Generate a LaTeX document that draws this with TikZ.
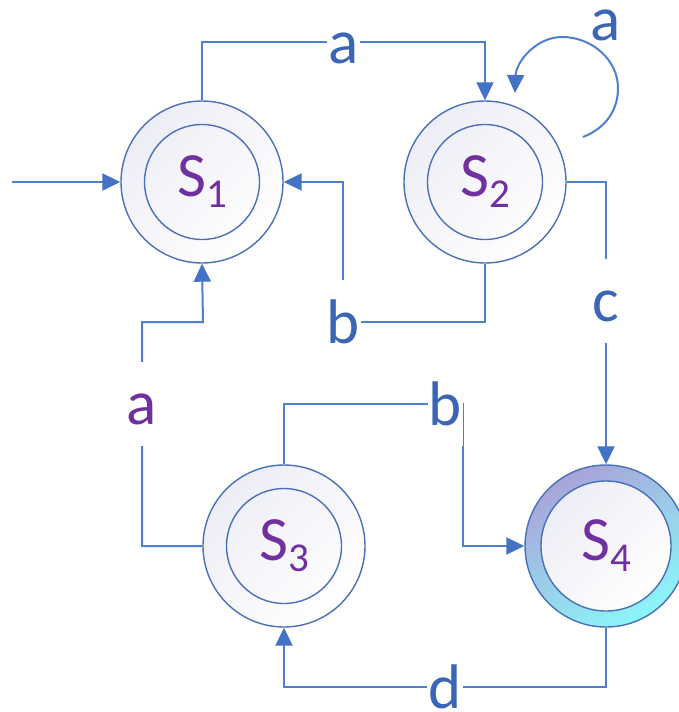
\documentclass[tikz,border=0pt]{standalone}
\usepackage{fontspec}
\setmainfont{Carlito}
\usetikzlibrary{arrows.meta}

\definecolor{edgeblue}{HTML}{4F7FCF}
\definecolor{tipblue}{HTML}{4472C4}
\definecolor{ringblue}{HTML}{4A70B8}
\definecolor{lblblue}{HTML}{3A66B5}
\definecolor{stpurple}{HTML}{7030A0}
\definecolor{shadetop}{HTML}{EDEDF6}
\definecolor{ringtop}{HTML}{A8A4D8}
\definecolor{ringbot}{HTML}{8CF6FA}

% state name with a lowered, smaller index
\newcommand{\stname}[1]{S\raisebox{-11pt}{\fontsize{41}{41}\selectfont #1}}

\tikzset{
  outerst/.style={circle, draw=ringblue, line width=1.4pt, minimum size=162pt,
    inner sep=0pt, top color=shadetop, bottom color=white, shading angle=45},
  innerst/.style={circle, draw=ringblue, line width=1.4pt, minimum size=115pt,
    inner sep=0pt, text=stpurple, font=\fontsize{63}{63}\selectfont},
  ringst/.style={outerst, top color=ringtop, bottom color=ringbot, shading angle=30},
  innerfill/.style={innerst, minimum size=130pt, top color=shadetop, bottom color=white, shading angle=45},
  arr/.style={draw=edgeblue, line width=2pt,
    -{Triangle[length=18pt,width=17pt,color=tipblue]}},
  lblfont/.style={text=lblblue, inner xsep=1pt, inner ysep=1pt,
    font=\fontsize{63}{63}\selectfont},
  lbl/.style={lblfont, fill=white, text height=62pt, text depth=20pt},
  lblbase/.style={lblfont, fill=white, text height=47pt, text depth=0pt, anchor=base},
}

\begin{document}
\begin{tikzpicture}[x=1pt, y=-1pt]
  \useasboundingbox (0,0) rectangle (679,712);
  \clip (0,0) rectangle (679,712);

  % states
  \node[outerst] (s1) at (202,182) {};
  \node[innerst] (s1i) at (s1) {\stname{1}};
  \node[outerst] (s2) at (485,182) {};
  \node[innerst] (s2i) at (s2) {\stname{2}};
  \node[outerst] (s3) at (284,546) {};
  \node[innerst] (s3i) at (s3) {\stname{3}};
  \node[ringst]  (s4) at (606,546) {};
  \node[innerfill] (s4i) at (s4) {\stname{4}};

  % free ends
  \coordinate (start) at (12,182);
  \coordinate (loopstart) at (583,137);
  \coordinate (loopend) at (515,93);

  % initial arrow
  \draw[arr] (start) -- (s1.west);

  % S1 -a-> S2
  \draw[arr] (s1.north) -- (202,42) -- node[lbl]{a} (485,42) -- (s2.north);

  % S2 self loop
  \draw[arr] (loopstart) .. controls (606,128) and (618,110) .. (618,88)
    .. controls (618,60) and (592,37) .. (562,37)
    .. controls (536,37) and (516,62) .. (loopend);
  \node[lblfont, anchor=base] (loopa) at (606,40) {a};

  % S2 -c-> S4
  \draw[arr] (s2.east) -- (606,182) -- node[lbl, pos=0.42]{c} (s4.north);

  % S2 -b-> S1
  \draw[arr] (s2.south) -- (485,322) -- (343,322) node[lbl]{b} -- (343,182) -- (s1.east);

  % S3 -a-> S1
  \draw[arr] (s3.west) -- (142,546) -- node[lbl, text=stpurple, pos=0.634]{a} (142,322)
    -- (203,322) -- (s1.south);

  % S3 -b-> S4
  \draw[arr] (s3.north) -- (284,404) -- node[lbl, pos=0.9]{b} (463,404)
    -- (463,546) -- (s4.west);

  % S4 -d-> S3
  \draw[arr] (s4.south) -- (606,687) -- (284,687) -- (s3.south);
  \node[lblbase] (dlbl) at (445,708) {d};
\end{tikzpicture}
\end{document}
